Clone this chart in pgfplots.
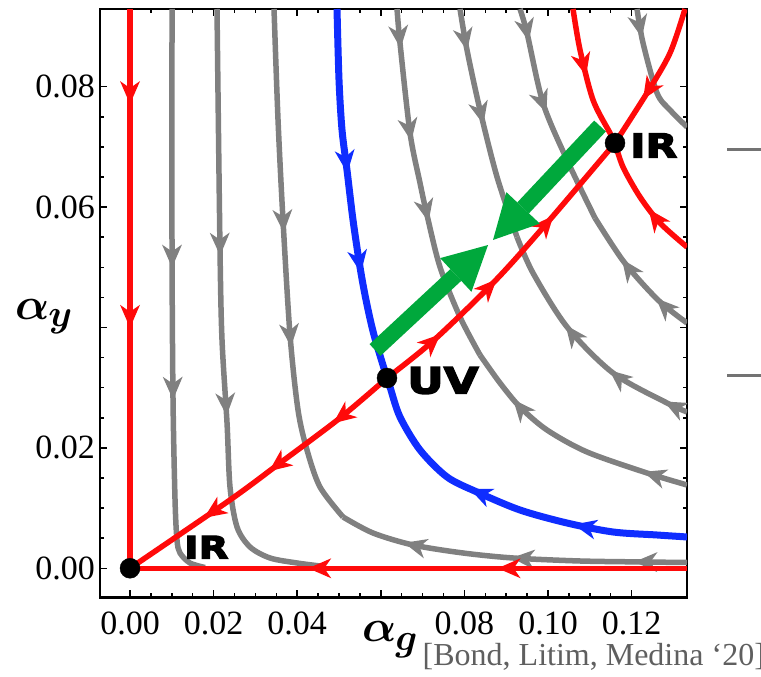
\RequirePackage{fix-cm}
\documentclass[border=0pt]{standalone}
\usepackage{bm}
\usepackage{fontspec}
\newfontfamily\citefont{Liberation Serif}
\newfontfamily\tickfont{Liberation Serif}
\newfontfamily\fpfont{DejaVu Sans Bold}[FakeBold=4,FakeStretch=1.25]
\usepackage{pgfplots}
\pgfplotsset{compat=1.18}
\usetikzlibrary{arrows.meta,decorations.markings}

\definecolor{fred}{RGB}{255,10,10}
\definecolor{fblue}{RGB}{15,45,255}
\definecolor{fgray}{RGB}{128,128,128}
\definecolor{fgreen}{RGB}{0,168,60}
\definecolor{citegray}{RGB}{95,95,95}

\tikzset{flowtip/.tip={Stealth[length=23pt,width=20pt,inset=7pt,line width=0pt]}}
\pgfkeys{/pgf/decoration/mark at/.style={mark=at position #1 with {\arrow{flowtip}}}}
\tikzset{
  flow/.style={postaction={decorate,decoration={markings,mark at/.list={#1}}}},
  gline/.style={fgray,line width=5.5pt,smooth},
  rline/.style={fred,line width=5.5pt},
  bline/.style={fblue,line width=7pt,smooth},
}

\begin{document}
\begin{tikzpicture}
\useasboundingbox (-100pt,-79.7pt) rectangle (661pt,597.3pt);
\begin{axis}[
  scale only axis, width=587pt, height=588.3pt,
  xmin=-0.00718, xmax=0.13325, ymin=-0.00482, ymax=0.09291,
  axis line style={line width=2.5pt},
  xtick={0,0.02,0.04,0.06,0.08,0.10,0.12},
  xticklabels={0.00,0.02,0.04,,0.08,0.10,0.12},
  ytick={0,0.02,0.04,0.06,0.08},
  yticklabels={0.00,0.02,,0.06,0.08},
  minor x tick num=3, minor y tick num=3,
  xtick pos=both, ytick pos=both,
  xticklabel pos=lower, yticklabel pos=left,
  tick align=inside,
  major tick length=7pt, minor tick length=4pt,
  tick style={black,line width=1.5pt},
  tick label style={font=\tickfont\fontsize{34}{40}\selectfont,inner sep=0pt},
  xticklabel style={yshift=-14pt},
  yticklabel style={xshift=-5pt},
  clip mode=individual,
]
% gray streamlines
\addplot[gline,flow={0.45,0.68}] coordinates {
  (0.01005,0.09291) (0.01005,0.05287) (0.01029,0.02796) (0.01077,0.01135)
  (0.01124,0.00470) (0.01196,0.00254) (0.01435,0.00088) (0.01794,0.00013)};
\addplot[gline,flow={0.40,0.66}] coordinates {
  (0.02081,0.09291) (0.02153,0.05287) (0.02201,0.03792) (0.02321,0.02414)
  (0.02392,0.01351) (0.02560,0.00686) (0.02871,0.00354) (0.03349,0.00171)
  (0.03995,0.00088) (0.04545,0.00038)};
\addplot[gline,flow={0.43,0.65}] coordinates {
  (0.03445,0.09291) (0.03541,0.07447) (0.03660,0.05786) (0.03828,0.03876)
  (0.04019,0.02630) (0.04234,0.01965) (0.04545,0.01351) (0.05096,0.00852)};
\addplot[gline,flow={0.15,0.5,0.81}] coordinates {
  (0.13325,0.00096) (0.12273,0.00105) (0.10766,0.00121) (0.09163,0.00171)
  (0.07967,0.00254) (0.06770,0.00387) (0.05813,0.00586) (0.05096,0.00852)};
\addplot[gline,flow={0.11,0.37,0.6}] coordinates {
  (0.06388,0.09291) (0.06459,0.08726) (0.06699,0.07231) (0.06938,0.06400)
  (0.07105,0.05869) (0.07416,0.05005) (0.07895,0.04174) (0.08373,0.03543)};
\addplot[gline,flow={0.18,0.78}] coordinates {
  (0.13325,0.01384) (0.12368,0.01583) (0.10933,0.01932) (0.09976,0.02297)
  (0.09330,0.02679) (0.08852,0.03078) (0.08373,0.03543)};
\addplot[gline,flow={0.18,0.5}] coordinates {
  (0.07895,0.09291) (0.08062,0.08610) (0.08373,0.07613) (0.08780,0.06501)
  (0.09258,0.05504)};
\addplot[gline,flow={0.1,0.35,0.6}] coordinates {
  (0.13325,0.02597) (0.12847,0.02746) (0.11555,0.03244) (0.10455,0.04009)
  (0.09641,0.04905) (0.09258,0.05504)};
\addplot[gline,flow={0.15,0.48}] coordinates {
  (0.09330,0.09291) (0.09498,0.08892) (0.09880,0.07729) (0.10455,0.06782)
  (0.11124,0.05819)};
\addplot[gline,flow={0.28,0.65}] coordinates {
  (0.13325,0.04075) (0.12632,0.04457) (0.11818,0.05088) (0.11124,0.05819)};
\addplot[gline,flow={0.22}] coordinates {
  (0.12129,0.09291) (0.12273,0.08726) (0.12608,0.07895) (0.12919,0.07613)
  (0.13325,0.07331)};
% red separatrices
\addplot[rline,flow={0.17,0.57}] coordinates {(0,0.09291) (0,0)};
\addplot[rline,flow={0.34,0.68}] coordinates {(0.13325,0) (0,0)};
\addplot[rline,smooth,flow={0.22,0.47,0.72}] coordinates {
  (0.06148,0.03161) (0.05024,0.02497) (0.03589,0.01749) (0.02392,0.01135) (0,0)};
\addplot[rline,smooth,flow={0.21,0.45,0.71}] coordinates {
  (0.06148,0.03161) (0.07249,0.03776) (0.08732,0.04773) (0.09976,0.05736)
  (0.11603,0.07065)};
\addplot[rline,smooth,flow={0.66}] coordinates {
  (0.13278,0.09291) (0.12919,0.08560) (0.12368,0.07895) (0.11603,0.07065)};
\addplot[rline,smooth,flow={0.48}] coordinates {
  (0.10598,0.09291) (0.10766,0.08610) (0.11077,0.07779) (0.11483,0.07231)
  (0.11603,0.07065)};
\addplot[rline,smooth,flow={0.42}] coordinates {
  (0.13325,0.05337) (0.12679,0.05736) (0.12201,0.06168) (0.11794,0.06666)
  (0.11603,0.07065)};
% blue separatrix
\addplot[bline,flow={0.44,0.71}] coordinates {
  (0.04952,0.09291) (0.05000,0.08111) (0.05072,0.07281) (0.05191,0.06616)
  (0.05335,0.05786) (0.05502,0.05005) (0.05646,0.04457) (0.05837,0.03875)
  (0.06148,0.03161)};
\addplot[bline,flow={0.31,0.61}] coordinates {
  (0.13325,0.00520) (0.12608,0.00553) (0.11555,0.00603) (0.10455,0.00752)
  (0.09330,0.00968) (0.08301,0.01267) (0.07584,0.01517) (0.06938,0.01965)
  (0.06459,0.02513) (0.06220,0.03012) (0.06148,0.03161)};
% green arrows
\addplot[fgreen,line width=16pt,-{Triangle[length=44pt,width=46pt,line width=0pt]}]
  coordinates {(0.05861,0.03626) (0.08565,0.05370)};
\addplot[fgreen,line width=16pt,-{Triangle[length=44pt,width=46pt,line width=0pt]}]
  coordinates {(0.11244,0.07347) (0.08684,0.05454)};
% fixed points
\addplot[only marks,mark=*,mark size=10pt,mark options={fill=black,draw=black}]
  coordinates {(0,0) (0.06148,0.03161) (0.11603,0.07065)};
\node[anchor=base west,inner sep=0pt,font=\fpfont\fontsize{31}{31}\selectfont]
  at (axis cs:0.01292,0.00163) {IR};
\node[anchor=base west,inner sep=0pt,font=\fpfont\fontsize{36}{36}\selectfont]
  at (axis cs:0.06627,0.02904) {UV};
\node[anchor=base west,inner sep=0pt,font=\fpfont\fontsize{33}{33}\selectfont]
  at (axis cs:0.11962,0.06824) {IR};
\end{axis}
\node[anchor=base west,inner sep=0pt] at (-85pt,277.3pt)
  {\fontsize{45}{50}\selectfont$\bm{\alpha}$\kern-1pt\raisebox{-7pt}{\fontsize{38}{40}\selectfont$\bm{y}$}};
\node[anchor=base west,inner sep=0pt] at (262pt,-44.7pt)
  {\fontsize{45}{50}\selectfont$\bm{\alpha}$\kern-1pt\raisebox{-9pt}{\fontsize{38}{40}\selectfont$\bm{g}$}};
\node[anchor=base west,inner sep=0pt,text=citegray,font=\citefont\fontsize{32}{36}\selectfont]
  at (322.5pt,-68.5pt) {[Bond, Litim, Medina ‘20]};
\draw[line width=3pt,fgray!90!black] (627pt,447.3pt) -- (661pt,447.3pt);
\draw[line width=3pt,fgray!90!black] (627pt,221.3pt) -- (661pt,221.3pt);
\end{tikzpicture}
\end{document}
